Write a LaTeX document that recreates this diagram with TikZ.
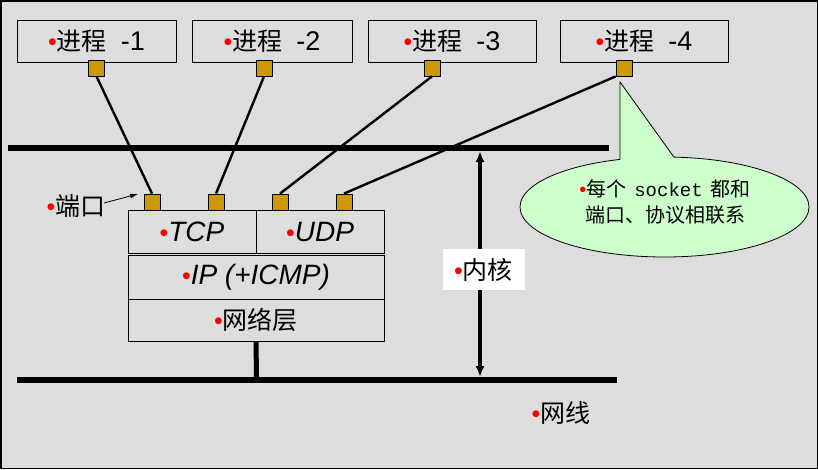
\documentclass[tikz,border=0pt]{standalone}
\usepackage{fontspec}
\setmainfont{Noto Sans CJK SC}
\newfontfamily\lat{Liberation Sans}
\newfontfamily\mono{Liberation Mono}
\usetikzlibrary{shapes.geometric,arrows.meta}
\definecolor{bg}{HTML}{DDDDDD}
\definecolor{portc}{HTML}{CC9900}
\definecolor{callc}{HTML}{CCFFCC}
\newcommand{\bul}{\textcolor{red}{\lat •}}
\begin{document}
\begin{tikzpicture}[x=1pt,y=-1pt,
  pbox/.style={draw, line width=1pt, minimum height=42, inner sep=0pt,
    font=\fontsize{25}{28}\selectfont},
  layer/.style={draw, line width=1pt, inner sep=0pt, font=\fontsize{25}{28}\selectfont},
  port/.style={draw, fill=portc, line width=0.8pt, minimum size=16, inner sep=0pt},
  wire/.style={line width=2.4pt},
  bus/.style={line width=6pt},
  lbl/.style={inner sep=0pt, font=\fontsize{25}{28}\selectfont}]
\useasboundingbox (0,0) rectangle (818,469);
\fill[bg] (0,0) rectangle (818,469);
\draw[line width=1.5pt] (0.75,0.75) rectangle (817.25,468.25);

% process boxes
\node[pbox, minimum width=159] (p1) at (96.5,41) {\bul 进程\hspace{14pt}{\lat\fontsize{27}{28}\selectfont -1}};
\node[pbox, minimum width=160] (p2) at (272,41) {\bul 进程\hspace{14pt}{\lat\fontsize{27}{28}\selectfont -2}};
\node[pbox, minimum width=168] (p3) at (452,41) {\bul 进程\hspace{14pt}{\lat\fontsize{27}{28}\selectfont -3}};
\node[pbox, minimum width=168] (p4) at (644,41) {\bul 进程\hspace{14pt}{\lat\fontsize{27}{28}\selectfont -4}};

% ports on processes
\node[port] (pp1) at (96.5,68) {};
\node[port] (pp2) at (264,68) {};
\node[port] (pp3) at (432,68) {};
\node[port] (pp4) at (624,68) {};

% buses
\coordinate (t1) at (8,148);
\coordinate (t2) at (609,148);
\coordinate (b1) at (17,380);
\coordinate (b2) at (617,380);
\draw[bus] (t1) -- (t2);
\draw[bus] (b1) -- (b2);

% protocol stack
\node[layer, minimum width=128, minimum height=43] (tcp) at (192,231.5) {\bul{\lat\itshape\fontsize{28}{28}\selectfont TCP}};
\node[layer, minimum width=128, minimum height=43] (udp) at (320,231.5) {\bul{\lat\itshape\fontsize{28}{28}\selectfont UDP}};
\node[layer, minimum width=256, minimum height=44] (ip) at (256,277) {\bul{\lat\itshape\fontsize{28}{28}\selectfont IP (+ICMP)}};
\node[layer, minimum width=256, minimum height=42] (net) at (256,320) {\bul 网络层};

% ports on stack
\node[port] (sp1) at (152,202) {};
\node[port] (sp2) at (216,202) {};
\node[port] (sp3) at (280,202) {};
\node[port] (sp4) at (344,202) {};

% wires
\draw[wire] (pp1.south) -- (sp1.north);
\draw[wire] (pp2.south) -- (sp2.north);
\draw[wire] (pp3.south) -- (sp3.north);
\draw[wire] (pp4.south west) -- (sp4.north);

% stub to network line
\coordinate (stub) at (256.5,377);
\draw[line width=5pt] (net.south) -- (stub);

% kernel arrow
\coordinate (kt) at (480,151);
\coordinate (kb) at (480,377);
\draw[line width=3.5pt, {Latex[length=11pt,width=9pt]}-{Latex[length=11pt,width=9pt]}] (kt) -- (kb);
\node[fill=white, minimum width=82, minimum height=41, inner sep=0pt, font=\fontsize{25}{28}\selectfont] (kern) at (483.5,269.5) {\bul 内核};

% port label
\node[lbl] (dk) at (76,206) {\bul 端口};
\coordinate (dkt) at (138,194);
\draw[line width=0.8pt, -{Latex[length=8pt,width=5pt]}] (104,203) -- (dkt);

% network label
\node[lbl] (wx) at (561,413) {\bul 网线};

% callout
\node[ellipse, draw, fill=callc, line width=0.8pt, minimum width=289, minimum height=100, inner sep=0pt] (call) at (664.5,207) {};
\coordinate (tip) at (620,82);
\fill[callc] (tip) -- (620,166) -- (680,166) -- cycle;
\draw[line width=0.8pt] (620,159.4) -- (tip) -- (674,157.2);
\node[align=center, inner sep=0pt, font=\fontsize{20}{26}\selectfont] (ctext) at (665,202)
  {\bul 每个\hspace{8pt}{\mono\fontsize{19}{26}\selectfont socket}\hspace{8pt}都和\\端口、协议相联系};
\end{tikzpicture}
\end{document}
